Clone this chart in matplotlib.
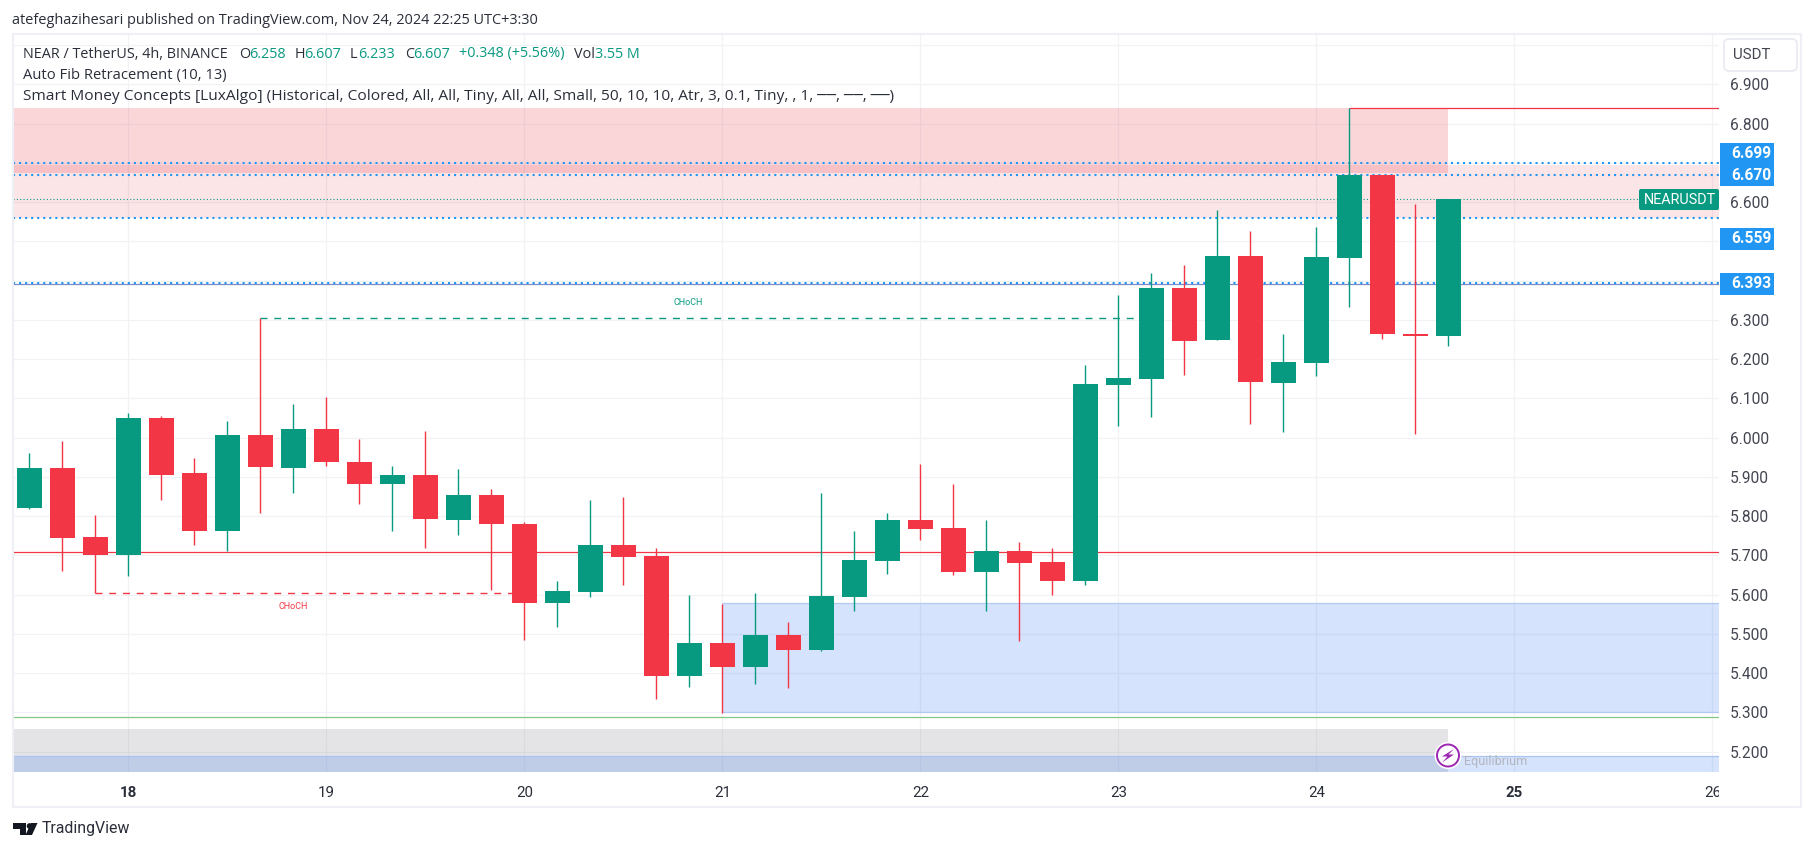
import matplotlib
matplotlib.use('Agg')
import matplotlib.pyplot as plt
from matplotlib.patches import Rectangle, FancyBboxPatch, Polygon, Circle
from matplotlib.transforms import Bbox

plt.rcParams['font.family'] = ['Roboto', 'DejaVu Sans']
HEAD_FONT = ['Open Sans', 'DejaVu Sans']

GREEN = '#089981'
RED = '#f23645'
ZONE_RED = '#e63645'
BLUE = '#2196f3'
ZONE_BLUE = '#2d73f0'
GRID = '#f1f2f6'
TEXT = '#2a2e39'

opens = [5.822, 5.922, 5.748, 5.702, 6.049, 5.909, 5.761, 6.006, 5.922, 6.021, 5.937,
         5.883, 5.904, 5.791, 5.853, 5.781, 5.579, 5.607, 5.727, 5.699, 5.393, 5.477,
         5.416, 5.497, 5.459, 5.595, 5.687, 5.791, 5.771, 5.658, 5.712, 5.684, 5.635,
         6.135, 6.150, 6.382, 6.249, 6.463, 6.140, 6.191, 6.458, 6.669, 6.265, 6.258]
highs = [5.962, 5.991, 5.802, 6.062, 6.055, 5.947, 6.042, 6.306, 6.086, 6.103, 5.996,
         5.927, 6.017, 5.919, 5.868, 5.784, 5.635, 5.840, 5.848, 5.720, 5.600, 5.577,
         5.605, 5.531, 5.860, 5.761, 5.809, 5.934, 5.881, 5.789, 5.735, 5.720, 6.186,
         6.364, 6.420, 6.441, 6.581, 6.527, 6.265, 6.537, 6.839, 6.669, 6.596, 6.607]
lows = [5.819, 5.661, 5.604, 5.648, 5.840, 5.727, 5.710, 5.809, 5.860, 5.927, 5.832,
        5.761, 5.720, 5.753, 5.612, 5.485, 5.518, 5.595, 5.625, 5.334, 5.365, 5.298,
        5.372, 5.362, 5.457, 5.559, 5.653, 5.738, 5.651, 5.559, 5.482, 5.600, 5.625,
        6.030, 6.053, 6.160, 6.249, 6.035, 6.015, 6.158, 6.333, 6.252, 6.010, 6.233]
closes = [5.922, 5.745, 5.702, 6.049, 5.906, 5.761, 6.006, 5.924, 6.021, 5.937, 5.883,
          5.904, 5.794, 5.853, 5.781, 5.579, 5.610, 5.727, 5.697, 5.393, 5.477, 5.416,
          5.497, 5.459, 5.597, 5.689, 5.791, 5.768, 5.658, 5.712, 5.681, 5.635, 6.137,
          6.153, 6.382, 6.247, 6.463, 6.142, 6.193, 6.461, 6.669, 6.265, 6.260, 6.607]

price_ticks = [5.2, 5.3, 5.4, 5.5, 5.6, 5.7, 5.8, 5.9, 6.0, 6.1, 6.2, 6.3, 6.4, 6.5, 6.6, 6.7, 6.8, 6.9, 7.0]
price_labels = ['5.200', '5.300', '5.400', '5.500', '5.600', '5.700', '5.800', '5.900', '6.000',
                '6.100', '6.200', '6.300', '', '', '6.600', '', '6.800', '6.900', '']
day_pos = [3, 9, 15, 21, 27, 33, 39, 45, 51]
day_labels = ['18', '19', '20', '21', '22', '23', '24', '25', '26']

fib_levels = [6.699, 6.670, 6.559, 6.393]
fib_label_px = [154, 175, 238.5, 283.5]

fig = plt.figure(figsize=(18.14, 8.51), dpi=100, facecolor='white')
ax = fig.add_axes([13 / 1814, 1 - 772 / 851, 1706 / 1814, 737 / 851])
ax.set_xlim(-0.5, 51.197)
ax.set_ylim(5.1483, 7.0256)
for s in ax.spines.values():
    s.set_visible(False)

ax.set_axisbelow(True)
ax.grid(True, color=GRID, lw=0.9)
ax.set_yticks(price_ticks, price_labels)
ax.yaxis.tick_right()
ax.tick_params(axis='y', length=0, pad=8, labelsize=11.2, labelcolor='#434651')
ax.set_xticks(day_pos, day_labels)
ax.tick_params(axis='x', length=0, pad=10, labelsize=10.8, labelcolor=TEXT)
for lab, txt in zip(ax.get_xticklabels(), day_labels):
    if txt in ('18', '25'):
        lab.set_fontweight('bold')
    if txt == '26':
        lab.set_clip_on(True)
        lab.set_clip_box(Bbox([[0, 0], [1719, 851]]))

# zones
x0, x1 = ax.get_xlim()
y_bot = ax.get_ylim()[0]
zone_end = 43
ax.add_patch(Rectangle((x0, 6.674), zone_end - x0, 6.84 - 6.674, fc=ZONE_RED, alpha=0.2, lw=0, zorder=1))
ax.add_patch(Rectangle((x0, 6.56), x1 - x0, 6.694 - 6.56, fc=ZONE_RED, alpha=0.13, lw=0, zorder=1))
ax.add_patch(Rectangle((21, 5.302), x1 - 21, 5.578 - 5.302, fc=ZONE_BLUE, alpha=0.2, lw=0, zorder=1))
ax.hlines([5.302, 5.578], 21, x1, color='#b2c9f3', lw=0.9, zorder=1.2)
ax.add_patch(Rectangle((x0, y_bot), zone_end - x0, 5.258 - y_bot, fc='#787b86', alpha=0.2, lw=0, zorder=1))
ax.add_patch(Rectangle((x0, y_bot), x1 - x0, 5.188 - y_bot, fc=ZONE_BLUE, alpha=0.2, lw=0, zorder=1.1))
ax.hlines(5.188, x0, x1, color='#a9c4f2', lw=0.9, zorder=1.2)

# structure lines
ax.hlines(5.7087, x0, x1, color=RED, lw=0.9, zorder=2)
ax.hlines(5.288, x0, x1, color='#81c784', lw=0.9, zorder=2)
ax.hlines(6.839, 40, x1, color=RED, lw=0.9, zorder=2)
ax.hlines(6.391, x0, x1, color='#7b8ac8', lw=0.9, zorder=2)
ax.plot([2, 15], [5.605, 5.605], color=RED, lw=1.0, dashes=(5, 4.9), zorder=2)
ax.plot([7, 34], [6.306, 6.306], color=GREEN, lw=1.0, dashes=(5, 4.9), zorder=2)
ax.text(8.0, 5.569, 'CHoCH', color=RED, fontsize=6.5, ha='center', va='center', zorder=2)
ax.text(19.95, 6.345, 'CHoCH', color=GREEN, fontsize=6.5, ha='center', va='center', zorder=2)

# fib levels and last price
ax.hlines(fib_levels, x0, x1, color=BLUE, lw=1.5, linestyles=[(0, (1, 1.9))], zorder=2.5)
ax.plot([x0, 48.8], [closes[-1], closes[-1]], color=GREEN, lw=0.8, ls=(0, (1, 2)), zorder=2.5)

# candles
xs = list(range(len(opens)))
colors = [GREEN if c >= o else RED for o, c in zip(opens, closes)]
ax.vlines(xs, lows, highs, color=colors, lw=1.0, zorder=3)
ax.bar(xs, [abs(c - o) for o, c in zip(opens, closes)], bottom=[min(o, c) for o, c in zip(opens, closes)],
       width=25 / 33, color=colors, lw=0, zorder=3.1)

# overlay in pixels for the page furniture
ov = fig.add_axes([0, 0, 1, 1], facecolor='none')
ov.set_xlim(0, 1814)
ov.set_ylim(851, 0)
ov.axis('off')

ov.add_patch(Rectangle((12.5, 33.5), 1788.5, 773, fc='none', ec='#eff0f6', lw=1.5))

ov.text(12, 20, 'atefeghazihesari published on TradingView.com, Nov 24, 2024 22:25 UTC+3:30',
        fontsize=10.45, color=TEXT, va='center', family=HEAD_FONT)

legend_parts = [
    (23, 'NEAR / TetherUS, 4h, BINANCE', TEXT), (239, 'O', TEXT), (249, '6.258', GREEN),
    (295, 'H', TEXT), (304, '6.607', GREEN), (350, 'L', TEXT), (358, '6.233', GREEN),
    (405, 'C', TEXT), (413, '6.607', GREEN), (459, '+0.348 (+5.56%)', GREEN),
    (574.5, 'Vol', TEXT), (595, '3.55 M', GREEN),
]
for px, txt, col in legend_parts:
    ov.text(px, 54, txt, fontsize=10.4, color=col, va='center', family=HEAD_FONT)
ov.text(23, 75, 'Auto Fib Retracement (10, 13)', fontsize=10.65, color=TEXT, va='center', family=HEAD_FONT)
ov.text(23, 97, 'Smart Money Concepts [LuxAlgo] (Historical, Colored, All, All, Tiny, All, All, Small, '
        '50, 10, 10, Atr, 3, 0.1, Tiny, , 1, ──, ──, ──)', fontsize=11.15, color=TEXT, va='center',
        family=HEAD_FONT)

# USDT button
ov.add_patch(FancyBboxPatch((1727, 42), 67, 26, boxstyle='round,pad=3,rounding_size=5',
                            fc='white', ec='#e8eaf1', lw=1.2))
ov.text(1752, 55, 'USDT', fontsize=10.8, color='#434651', ha='center', va='center')

# fib price tags
for lvl, py in zip(fib_levels, fib_label_px):
    ov.add_patch(Rectangle((1720, py - 11), 54, 22, fc=BLUE, lw=0))
    ov.text(1731, py, f'{lvl:.3f}', fontsize=11.2, color='white', fontweight='bold', va='center')

# NEARUSDT tag
ov.add_patch(FancyBboxPatch((1639, 189), 80, 21, boxstyle='round,pad=0,rounding_size=2', fc=GREEN, lw=0))
ov.text(1644, 199.8, 'NEARUSDT', fontsize=10.4, color='white', va='center')

# equilibrium marker
ov.add_patch(Circle((1448, 755.5), 13.5, fc='white', lw=0))
ov.add_patch(Circle((1448, 755.5), 11, fc='white', ec='#9c27b0', lw=1.4))
ov.add_patch(Polygon([(1454, 749), (1442, 756.5), (1447.5, 756.5), (1442, 762.5), (1454, 754.5), (1448.5, 754.5)],
                     fc='#9c27b0', lw=0))
ov.text(1464, 762, 'Equilibrium', fontsize=9, color='#b2b5be', va='center')

# TradingView logo
ov.add_patch(Polygon([(13, 823), (26, 823), (26, 835), (20, 835), (20, 829), (13, 829)], fc='#131722', lw=0))
ov.add_patch(Circle((29.5, 826), 2.8, fc='#131722', lw=0))
ov.add_patch(Polygon([(31, 823), (37.5, 823), (32, 835), (25.5, 835)], fc='#131722', lw=0))
ov.text(42, 829, 'TradingView', fontsize=11.4, color=TEXT, va='center')

plt.savefig('out.png', dpi=100)
